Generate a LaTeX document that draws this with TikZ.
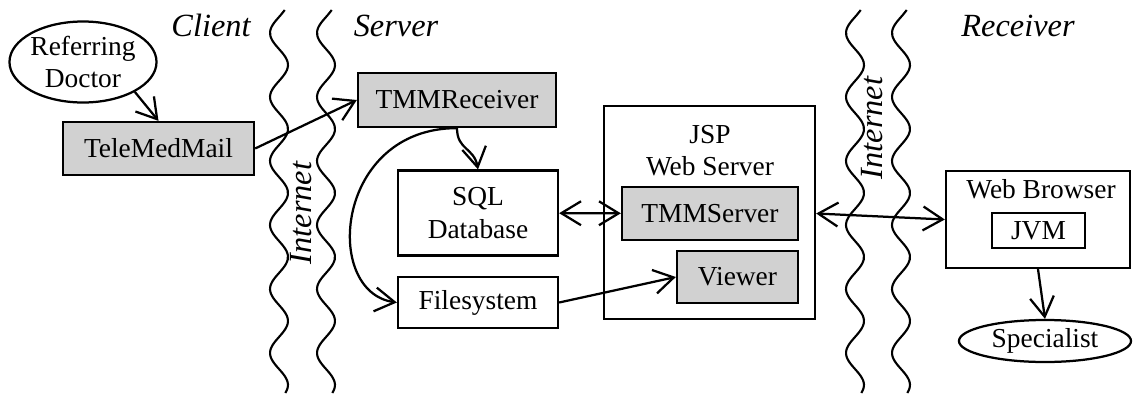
\documentclass[tikz,border=0pt]{standalone}
\usepackage{fontspec}
\setmainfont{Liberation Serif}
\usepackage{tikz}
\usetikzlibrary{positioning, calc}
\usetikzlibrary{arrows.meta}
\usetikzlibrary{shapes}

\begin{document}
\begin{tikzpicture}[x=0.025cm,y=-0.025cm,->,>={Straight Barb[length=14pt,width=17pt]},line width=1.6pt,draw=black!100]
	\def \labelrow{36}
	\def \wavetop{10}
	\def \wavebot{393}
	\tikzstyle{g-box}=[rectangle,draw=black!100,fill=black!18,inner sep=0pt]
	\tikzstyle{w-box}=[rectangle,draw=black!100,fill=white,inner sep=0pt,align=center]
	\tikzstyle{actor}=[ellipse,draw=black!100,inner sep=-2pt,align=center]
	\tikzstyle{zone}=[font=\fontsize{23}{26}\selectfont\itshape]
	\tikzstyle{wave}=[-,line width=1.5pt]

	\useasboundingbox (0,0) rectangle (1133,396);
	\fontsize{19.5}{23}\selectfont

	% zone labels
	\node[zone,anchor=base] (client)   at (211,\labelrow)  {Client};
	\node[zone,anchor=base] (server)   at (396,\labelrow)  {Server};
	\node[zone,anchor=base] (receiver) at (1018,\labelrow) {Receiver};
	\node[zone,rotate=90]   (net1)     at (301,213)        {Internet};
	\node[zone,rotate=90]   (net2)     at (872,128)        {Internet};

	% internet boundaries
	\foreach \c in {279,326,855,901}
		\draw[wave] plot[smooth,domain=\wavetop:\wavebot,samples=90] ({\c-9*cos(5.625*(\x-33))},{\x});

	% client side
	\node[actor,minimum width=3.675cm,minimum height=2.025cm] (doctor)  at (83,62)      {Referring\\Doctor};
	\node[g-box,minimum width=4.775cm,minimum height=1.325cm] (telemed) at (158.5,148.5) {TeleMedMail};

	% server side
	\node[g-box,minimum width=4.95cm,minimum height=1.35cm]   (tmmrecv) at (457,100)     {TMMReceiver};
	\node[w-box,minimum width=4cm,minimum height=2.125cm]     (sqldb)   at (478,213)     {SQL\\Database};
	\node[w-box,minimum width=4cm,minimum height=1.275cm]     (filesys) at (478,302.5)   {Filesystem};
	\node[w-box,minimum width=5.275cm,minimum height=5.325cm] (jsp)     at (709.5,212.5) {};
	\node[align=center,anchor=north,inner sep=0pt]            (jsptext) at (710,124)     {JSP\\Web Server};
	\node[g-box,minimum width=4.4cm,minimum height=1.325cm]   (tmmserver) at (710,213.5) {TMMServer};
	\node[g-box,minimum width=3.025cm,minimum height=1.3cm]   (viewer)  at (737.5,277)   {Viewer};

	% receiver side
	\node[w-box,minimum width=4.6cm,minimum height=2.425cm]   (webbrowser) at (1038,219.5) {};
	\node[anchor=base,inner sep=0pt]                          (wbtext)  at (1041,198)    {Web Browser};
	\node[w-box,minimum width=2.325cm,minimum height=0.875cm] (jvm)     at (1038.5,230.5) {JVM};
	\node[actor,minimum width=4.3cm,minimum height=1.05cm]    (specialist) at (1045,341) {Specialist};

	\path
		(doctor.-30)	edge	(telemed.north)
		(telemed.east)	edge	(tmmrecv.west)
		(sqldb)	edge[<->]	(tmmserver)
		(filesys.east)	edge	(viewer.west)
		(tmmserver.east -| jsp.east)	edge[<->]	(webbrowser.west)
		(webbrowser.south)	edge	(specialist.north);

	\draw (tmmrecv.south) .. controls +(0,22) and +(-4,-22) .. (sqldb.north);
	\draw (tmmrecv.south) .. controls (335,128) and (322,292) .. (filesys.west);
\end{tikzpicture}
\end{document}
